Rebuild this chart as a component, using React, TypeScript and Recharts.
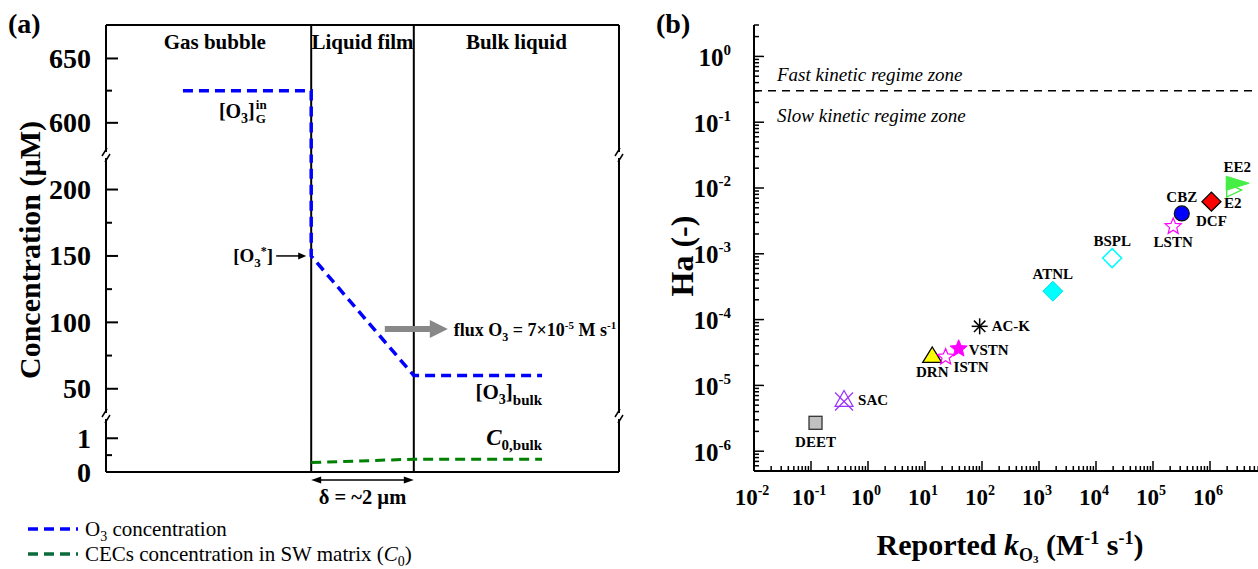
import React from "react";
import {
  LineChart,
  Line,
  XAxis,
  YAxis,
  ReferenceLine,
  ReferenceDot,
  ScatterChart,
  Scatter,
} from "recharts";

const SERIF = '"Liberation Serif", "Times New Roman", serif';

// (a) ozone / CEC concentration across the interface, x in µm from the bubble surface
const o3X = [-2.5, 0, 0, 2, 4.5];
const o3C = [625, 625, 150, 60, 60];
const cecX = [0, 2, 4.5];
const cecC = [0.28, 0.38, 0.38];
const zoneLabels = ["Gas bubble", "Liquid film", "Bulk liquid"];
const zoneMid = [-1.88, 1, 4];

// broken concentration axis: three stacked bands (top to bottom)
const bandDomains = [
  [575, 676],
  [29.5, 226],
  [0, 1.66],
];
const bandTicks = [
  [600, 625, 650],
  [50, 75, 100, 125, 150, 175, 200],
  [0, 0.5, 1],
];
const bandLabels = [
  [600, 650],
  [50, 100, 150, 200],
  [0, 1],
];

// (b) Hatta number against reported ozone rate constant
const compounds = ["DEET", "SAC", "DRN", "ISTN", "VSTN", "AC-K", "ATNL", "BSPL", "LSTN", "CBZ", "DCF", "E2", "EE2"];
const kO3 = [0.12, 0.38, 13.4, 23, 39, 91, 1750, 19200, 2.26e5, 3.2e5, 1.06e6, 2.5e6, 3.0e6];
const hatta = [2.7e-6, 5.9e-6, 2.8e-5, 2.7e-5, 3.6e-5, 7.9e-5, 2.7e-4, 8.6e-4, 2.6e-3, 4.1e-3, 6.2e-3, 9.3e-3, 1.18e-2];
const regimeLimit = 0.3;

const kExp = [-2, -1, 0, 1, 2, 3, 4, 5, 6];
const haExp = [-7, -6, -5, -4, -3, -2, -1, 0];
const mantissas = [1, 2, 3, 4, 5, 6, 7, 8, 9];
const kTicks = [...kExp.flatMap((e) => mantissas.map((m) => m * 10 ** e)), 1e7];
const haTicks = haExp.flatMap((e) => mantissas.map((m) => m * 10 ** e)).filter((v) => v >= 5e-7 && v <= 3);

// layout
const A_LEFT = 106;
const A_RIGHT = 619;
const A_W = 640;
const bandTop = [25, 155, 416];
const bandH = [130, 261, 56];

const o3Data = o3X.map((x, i) => ({ x, c: o3C[i] }));
const cecData = cecX.map((x, i) => ({ x, c: cecC[i] }));
const pointData = compounds.map((name, i) => ({ name, k: kO3[i], ha: hatta[i] }));

// where each compound tag sits relative to its marker
const tagPlace: Record<string, [number, number, string]> = {
  DEET: [0, 24, "middle"],
  SAC: [14, 5, "start"],
  DRN: [0, 21, "middle"],
  ISTN: [8, 15, "start"],
  VSTN: [10, 6, "start"],
  "AC-K": [12, 5, "start"],
  ATNL: [0, -12, "middle"],
  BSPL: [0, -12, "middle"],
  LSTN: [0, 21, "middle"],
  CBZ: [0, -11, "middle"],
  DCF: [0, 24, "middle"],
  E2: [0, 18, "middle"],
  EE2: [0, -11, "middle"],
};

const bold = { fontFamily: SERIF, fontWeight: "bold" as const };

function ConcTick(props: any) {
  const { x, y, payload, labels } = props;
  const major = labels.includes(payload.value);
  return (
    <g>
      <line x1={x} x2={x + (major ? 12 : 6)} y1={y} y2={y} stroke="#000" strokeWidth={2} />
      {major && (
        <text x={x - 15} y={y + 9.5} textAnchor="end" fontSize={28} {...bold}>
          {payload.value}
        </text>
      )}
    </g>
  );
}

function isDecade(v: number) {
  const lg = Math.log10(v);
  return Math.abs(lg - Math.round(lg)) < 1e-9;
}

function KTick(props: any) {
  const { x, y, payload, side } = props;
  const v = payload.value;
  const major = isDecade(v);
  const len = major ? 10 : 5;
  const dir = side === "top" ? 1 : -1;
  const e = Math.round(Math.log10(v));
  return (
    <g>
      <line x1={x} x2={x} y1={y} y2={y + dir * len} stroke="#000" strokeWidth={1.5} />
      {side === "bottom" && major && e <= 6 && (
        <text x={x - 2} y={y + 34} textAnchor="middle" fontSize={23} {...bold}>
          10
          <tspan dy={-10} fontSize={14}>
            {e}
          </tspan>
        </text>
      )}
    </g>
  );
}

function HaTick(props: any) {
  const { x, y, payload, side } = props;
  const v = payload.value;
  const major = isDecade(v);
  const len = major ? 10 : 5;
  const dir = side === "right" ? -1 : 1;
  const e = Math.round(Math.log10(v));
  return (
    <g>
      <line x1={x} x2={x + dir * len} y1={y} y2={y} stroke="#000" strokeWidth={1.5} />
      {side === "left" && major && (
        <text x={x - 23} y={y + 9.5} textAnchor="end" fontSize={25} {...bold}>
          10
          <tspan dy={-11} fontSize={15}>
            {e}
          </tspan>
        </text>
      )}
    </g>
  );
}

function starPath(cx: number, cy: number, R: number, r: number) {
  let d = "";
  for (let i = 0; i < 10; i++) {
    const a = -Math.PI / 2 + (i * Math.PI) / 5;
    const rad = i % 2 ? r : R;
    d += (i ? "L" : "M") + (cx + rad * Math.cos(a)).toFixed(2) + "," + (cy + rad * Math.sin(a)).toFixed(2);
  }
  return d + "Z";
}

function diamond(cx: number, cy: number, R: number) {
  return `M${cx},${cy - R}L${cx + R},${cy}L${cx},${cy + R}L${cx - R},${cy}Z`;
}

function Glyph({ name, cx, cy }: { name: string; cx: number; cy: number }) {
  switch (name) {
    case "DEET":
      return <rect x={cx - 6.5} y={cy - 6.5} width={13} height={13} fill="#c0c0c0" stroke="#333" strokeWidth={1.3} />;
    case "SAC":
      return (
        <g fill="none" stroke="#9933ff" strokeWidth={1.2}>
          <path d={`M${cx},${cy - 10}L${cx + 9},${cy + 6}L${cx - 9},${cy + 6}Z`} />
          <path d={`M${cx - 9},${cy - 8}L${cx + 9},${cy + 10}M${cx + 9},${cy - 8}L${cx - 9},${cy + 10}`} />
        </g>
      );
    case "DRN":
      return (
        <path d={`M${cx},${cy - 9}L${cx + 9.5},${cy + 6.5}L${cx - 9.5},${cy + 6.5}Z`} fill="#ffff00" stroke="#000" strokeWidth={1.3} />
      );
    case "ISTN":
    case "LSTN":
      return <path d={starPath(cx, cy, 8.5, 3.8)} fill="none" stroke="#ff00ff" strokeWidth={1.2} />;
    case "VSTN":
      return <path d={starPath(cx, cy, 9, 4)} fill="#ff00ff" stroke="#ff00ff" strokeWidth={1} />;
    case "AC-K":
      return (
        <g stroke="#000" strokeWidth={1.5}>
          <line x1={cx - 8} x2={cx + 8} y1={cy} y2={cy} />
          <line x1={cx} x2={cx} y1={cy - 8} y2={cy + 8} />
          <line x1={cx - 5.7} x2={cx + 5.7} y1={cy - 5.7} y2={cy + 5.7} />
          <line x1={cx - 5.7} x2={cx + 5.7} y1={cy + 5.7} y2={cy - 5.7} />
        </g>
      );
    case "ATNL":
      return <path d={diamond(cx, cy, 10)} fill="#00ffff" stroke="#00e0e0" strokeWidth={1} />;
    case "BSPL":
      return <path d={diamond(cx, cy, 9.5)} fill="#fff" stroke="#00ffff" strokeWidth={1.5} />;
    case "CBZ":
      return <circle cx={cx} cy={cy} r={7.5} fill="#0000ff" stroke="#111" strokeWidth={1.2} />;
    case "DCF":
      return <path d={diamond(cx, cy, 9.5)} fill="#ff0000" stroke="#000" strokeWidth={1.3} />;
    case "E2":
      return <path d={`M${cx - 6},${cy - 7}L${cx + 9},${cy}L${cx - 6},${cy + 7}Z`} fill="#fff" stroke="#33ee33" strokeWidth={1.3} />;
    case "EE2":
      return <path d={`M${cx - 11},${cy - 7}L${cx + 12},${cy}L${cx - 11},${cy + 7}Z`} fill="#44ee44" stroke="#44ee44" strokeWidth={1} />;
    default:
      return null;
  }
}

function CompoundMark(props: any) {
  const { cx, cy, name } = props;
  const [dx, dy, anchor] = tagPlace[name];
  return (
    <g>
      <Glyph name={name} cx={cx} cy={cy} />
      <text x={cx + dx} y={cy + dy} textAnchor={anchor} fontSize={15} {...bold}>
        {name}
      </text>
    </g>
  );
}

// ---------- panel (a) annotation pieces ----------
function ZoneLabel({ cx, cy, text }: any) {
  return (
    <text x={cx} y={cy + 24} textAnchor="middle" fontSize={21} {...bold}>
      {text}
    </text>
  );
}

function GasInLabel({ cx, cy }: any) {
  return (
    <g {...bold}>
      <text x={cx} y={cy + 27} textAnchor="end" fontSize={20}>
        [O<tspan dy={5} fontSize={14}>3</tspan>
        <tspan dy={-5}>]</tspan>
      </text>
      <text x={cx + 1} y={cy + 18} fontSize={13}>
        in
        <tspan x={cx + 1} dy={14}>
          G
        </tspan>
      </text>
    </g>
  );
}

function StarLabel({ cx, cy }: any) {
  return (
    <g>
      <text x={cx - 38} y={cy + 6} textAnchor="end" fontSize={19} {...bold}>
        [O<tspan dy={5} fontSize={13}>3</tspan>
        <tspan dy={-12} fontSize={12}>*</tspan>
        <tspan dy={7}>]</tspan>
      </text>
      <line x1={cx - 35} x2={cx - 12} y1={cy} y2={cy} stroke="#000" strokeWidth={1.5} />
      <path d={`M${cx - 13},${cy - 3.5}L${cx - 5},${cy}L${cx - 13},${cy + 3.5}Z`} fill="#000" />
    </g>
  );
}

function FluxLabel({ cx, cy }: any) {
  return (
    <g>
      <line x1={cx - 29} x2={cx + 20} y1={cy} y2={cy} stroke="#888" strokeWidth={6} />
      <path d={`M${cx + 16},${cy - 9}L${cx + 34},${cy}L${cx + 16},${cy + 9}Z`} fill="#888" />
      <text x={cx + 40} y={cy + 7} fontSize={18} {...bold}>
        flux O<tspan dy={5} fontSize={12}>3</tspan>
        <tspan dy={-5}> = 7×10</tspan>
        <tspan dy={-7} fontSize={11}>-5</tspan>
        <tspan dy={7}> M s</tspan>
        <tspan dy={-7} fontSize={11}>-1</tspan>
      </text>
    </g>
  );
}

function BulkLabel({ cx, cy }: any) {
  return (
    <text x={cx} y={cy + 24} textAnchor="end" fontSize={21} {...bold}>
      [O<tspan dy={5} fontSize={14}>3</tspan>
      <tspan dy={-5}>]</tspan>
      <tspan dy={6} fontSize={15}>bulk</tspan>
    </text>
  );
}

function C0Label({ cx, cy }: any) {
  return (
    <text x={cx} y={cy - 14} textAnchor="end" fontSize={23} {...bold}>
      <tspan fontStyle="italic">C</tspan>
      <tspan dy={5} fontSize={15}>0,bulk</tspan>
    </text>
  );
}

function FilmWidth(props: any) {
  const { x1, x2, y1 } = props;
  const y = y1 + 8;
  const mid = (x1 + x2) / 2;
  return (
    <g>
      <line x1={x1 + 4} x2={x2 - 4} y1={y} y2={y} stroke="#000" strokeWidth={1.5} />
      <path d={`M${x1},${y}L${x1 + 10},${y - 3.5}L${x1 + 10},${y + 3.5}Z`} fill="#000" />
      <path d={`M${x2},${y}L${x2 - 10},${y - 3.5}L${x2 - 10},${y + 3.5}Z`} fill="#000" />
      <text x={mid} y={y + 24} textAnchor="middle" fontSize={20.5} {...bold}>
        δ = ~2 µm
      </text>
    </g>
  );
}

function Band({ i }: { i: number }) {
  const [lo, hi] = bandDomains[i];
  const frame = { stroke: "#000", strokeWidth: 2 };
  return (
    <div style={{ position: "absolute", left: 0, top: bandTop[i] }}>
      <LineChart
        width={A_W}
        height={bandH[i]}
        margin={{ top: 0, right: A_W - A_RIGHT, bottom: 0, left: A_LEFT - 50 }}
      >
        <XAxis type="number" dataKey="x" domain={[-4, 6]} allowDataOverflow hide />
        <YAxis
          type="number"
          domain={[lo, hi]}
          allowDataOverflow
          ticks={bandTicks[i]}
          interval={0}
          width={50}
          tickSize={0}
          tickMargin={0}
          tickLine={false}
          axisLine={frame}
          tick={(p: any) => <ConcTick {...p} labels={bandLabels[i]} />}
        />
        <ReferenceLine x={0} {...frame} />
        <ReferenceLine x={2} {...frame} />
        <ReferenceLine x={6} {...frame} />
        {i === 0 && <ReferenceLine y={hi} {...frame} />}
        {i === 2 && <ReferenceLine y={0} {...frame} />}
        <Line
          data={o3Data}
          dataKey="c"
          type="linear"
          stroke="#0000ff"
          strokeWidth={3.5}
          strokeDasharray="10 6"
          dot={false}
          isAnimationActive={false}
        />
        <Line
          data={cecData}
          dataKey="c"
          type="linear"
          stroke="#008000"
          strokeWidth={3}
          strokeDasharray="10 6"
          dot={false}
          isAnimationActive={false}
        />
        {i === 0 &&
          zoneLabels.map((t, j) => (
            <ReferenceDot
              key={t}
              x={zoneMid[j]}
              y={hi}
              r={0}
              ifOverflow="visible"
              shape={(p: any) => <ZoneLabel cx={p.cx} cy={p.cy} text={t} />}
            />
          ))}
        {i === 0 && (
          <ReferenceDot x={-1.1} y={625} r={0} ifOverflow="visible" shape={(p: any) => <GasInLabel cx={p.cx} cy={p.cy} />} />
        )}
        {i === 1 && (
          <ReferenceDot x={0} y={150} r={0} ifOverflow="visible" shape={(p: any) => <StarLabel cx={p.cx} cy={p.cy} />} />
        )}
        {i === 1 && (
          <ReferenceDot x={2} y={95} r={0} ifOverflow="visible" shape={(p: any) => <FluxLabel cx={p.cx} cy={p.cy} />} />
        )}
        {i === 1 && (
          <ReferenceDot x={4.5} y={60} r={0} ifOverflow="visible" shape={(p: any) => <BulkLabel cx={p.cx} cy={p.cy} />} />
        )}
        {i === 2 && (
          <ReferenceDot x={4.5} y={0.38} r={0} ifOverflow="visible" shape={(p: any) => <C0Label cx={p.cx} cy={p.cy} />} />
        )}
        {i === 2 && (
          <ReferenceLine
            segment={[
              { x: 0, y: 0 },
              { x: 2, y: 0 },
            ]}
            ifOverflow="visible"
            shape={(p: any) => <FilmWidth {...p} />}
          />
        )}
      </LineChart>
    </div>
  );
}

function PanelB() {
  const frame = { stroke: "#000", strokeWidth: 2 };
  return (
    <div style={{ position: "absolute", left: 640, top: 0 }}>
      <ScatterChart width={660} height={569} margin={{ top: 25, right: 33, bottom: 68, left: 54 }}>
        <XAxis
          type="number"
          dataKey="k"
          scale="log"
          domain={[0.01, 1e7]}
          allowDataOverflow
          ticks={kTicks}
          interval={0}
          height={30}
          tickSize={0}
          tickMargin={0}
          tickLine={false}
          axisLine={frame}
          tick={(p: any) => <KTick {...p} side="bottom" />}
        />
        <XAxis
          xAxisId="top"
          orientation="top"
          type="number"
          dataKey="k"
          scale="log"
          domain={[0.01, 1e7]}
          allowDataOverflow
          ticks={kTicks}
          interval={0}
          height={0}
          tickSize={0}
          tickMargin={0}
          tickLine={false}
          axisLine={frame}
          tick={(p: any) => <KTick {...p} side="top" />}
        />
        <YAxis
          type="number"
          dataKey="ha"
          scale="log"
          domain={[5e-7, 3]}
          allowDataOverflow
          ticks={haTicks}
          interval={0}
          width={60}
          tickSize={0}
          tickMargin={0}
          tickLine={false}
          axisLine={frame}
          tick={(p: any) => <HaTick {...p} side="left" />}
        />
        <YAxis
          yAxisId="right"
          orientation="right"
          type="number"
          dataKey="ha"
          scale="log"
          domain={[5e-7, 3]}
          allowDataOverflow
          ticks={haTicks}
          interval={0}
          width={0}
          tickSize={0}
          tickMargin={0}
          tickLine={false}
          axisLine={frame}
          tick={(p: any) => <HaTick {...p} side="right" />}
        />
        <ReferenceLine
          y={regimeLimit}
          stroke="#000"
          strokeWidth={1.5}
          strokeDasharray="8 6"
          label={(p: any) => {
            const vb = p.viewBox;
            return (
              <g fontFamily={SERIF} fontStyle="italic" fontSize={19}>
                <text x={vb.x + 23} y={vb.y - 10}>
                  Fast kinetic regime zone
                </text>
                <text x={vb.x + 23} y={vb.y + 31}>
                  Slow kinetic regime zone
                </text>
              </g>
            );
          }}
        />
        {pointData.map((d) => (
          <Scatter
            key={d.name}
            data={[d]}
            isAnimationActive={false}
            shape={(p: any) => <CompoundMark cx={p.cx} cy={p.cy} name={d.name} />}
          />
        ))}
      </ScatterChart>
    </div>
  );
}

function Titles() {
  const breaks = [bandTop[1], bandTop[2]].flatMap((y) => [A_LEFT, A_RIGHT].map((x) => ({ x, y })));
  return (
    <svg
      width={1258}
      height={569}
      style={{ position: "absolute", left: 0, top: 0, pointerEvents: "none" }}
    >
      {breaks.map(({ x, y }) => (
        <g key={`${x}-${y}`}>
          <rect x={x - 3} y={y - 3} width={6} height={6} fill="#fff" />
          <line x1={x - 4} y1={y + 1} x2={x + 1} y2={y - 7} stroke="#000" strokeWidth={1.5} />
          <line x1={x - 1} y1={y + 7} x2={x + 4} y2={y - 1} stroke="#000" strokeWidth={1.5} />
        </g>
      ))}
      <text x={8} y={33} fontSize={28} {...bold}>
        (a)
      </text>
      <text x={656} y={33} fontSize={28} {...bold}>
        (b)
      </text>
      <text transform="translate(40,250) rotate(-90)" textAnchor="middle" fontSize={30} {...bold}>
        Concentration (µM)
      </text>
      <text transform="translate(693,256) rotate(-90)" textAnchor="middle" fontSize={32} {...bold}>
        Ha (-)
      </text>
      <text x={1010} y={555} textAnchor="middle" fontSize={30} {...bold}>
        Reported <tspan fontStyle="italic">k</tspan>
        <tspan dy={6} fontSize={18}>O</tspan>
        <tspan dy={2} fontSize={11}>3</tspan>
        <tspan dy={-8}> (M</tspan>
        <tspan dy={-11} fontSize={18}>-1</tspan>
        <tspan dy={11}> s</tspan>
        <tspan dy={-11} fontSize={18}>-1</tspan>
        <tspan dy={11}>)</tspan>
      </text>
      <g fontFamily={SERIF} fontSize={21}>
        <line x1={28} x2={78} y1={529} y2={529} stroke="#0000ff" strokeWidth={3.5} strokeDasharray="10 6" />
        <text x={85} y={536}>
          O<tspan dy={5} fontSize={14}>3</tspan>
          <tspan dy={-5}> concentration</tspan>
        </text>
        <line x1={28} x2={78} y1={554} y2={554} stroke="#0b6b3a" strokeWidth={3.5} strokeDasharray="10 6" />
        <text x={85} y={561}>
          CECs concentration in SW matrix (<tspan fontStyle="italic">C</tspan>
          <tspan dy={5} fontSize={14}>0</tspan>
          <tspan dy={-5}>)</tspan>
        </text>
      </g>
    </svg>
  );
}

export default function App() {
  return (
    <div
      style={{
        position: "absolute",
        left: 0,
        top: 0,
        width: 1258,
        height: 569,
        overflow: "hidden",
        background: "#fff",
        fontFamily: SERIF,
      }}
    >
      <style>{`.recharts-surface{overflow:visible}`}</style>
      {[0, 1, 2].map((i) => (
        <Band key={i} i={i} />
      ))}
      <PanelB />
      <Titles />
    </div>
  );
}
